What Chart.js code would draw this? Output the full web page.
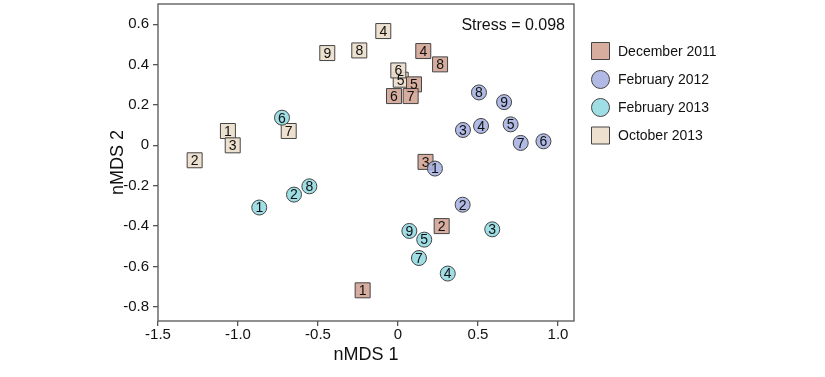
<!DOCTYPE html>
<html>
<head>
<meta charset="utf-8">
<script src="https://cdn.jsdelivr.net/npm/chart.js@4"></script>
<style>
  html, body { margin: 0; padding: 0; background: #fff; }
  #wrap { width: 825px; height: 377px; }
</style>
</head>
<body>
<div id="wrap"><canvas id="nmds-chart" width="825" height="377"></canvas></div>
<script>
const seriesNames = ['December 2011', 'February 2012', 'February 2013', 'October 2013'];

const dec2011Labels = ['1', '2', '3', '4', '5', '6', '7', '8'];
const dec2011X = [-0.221, 0.273, 0.172, 0.158, 0.100, -0.025, 0.079, 0.263];
const dec2011Y = [-0.718, -0.400, -0.082, 0.467, 0.302, 0.244, 0.244, 0.401];

const feb2012Labels = ['1', '2', '3', '4', '5', '6', '7', '8', '9'];
const feb2012X = [0.231, 0.404, 0.406, 0.519, 0.704, 0.909, 0.767, 0.506, 0.663];
const feb2012Y = [-0.115, -0.294, 0.076, 0.096, 0.104, 0.020, 0.012, 0.262, 0.214];

const feb2013Labels = ['1', '2', '3', '4', '5', '6', '7', '8', '9'];
const feb2013X = [-0.867, -0.650, 0.589, 0.311, 0.164, -0.725, 0.131, -0.554, 0.071];
const feb2013Y = [-0.308, -0.244, -0.416, -0.635, -0.467, 0.137, -0.558, -0.203, -0.424];

const oct2013Labels = ['1', '2', '3', '4', '5', '6', '7', '8', '9'];
const oct2013X = [-1.063, -1.271, -1.033, -0.092, 0.017, 0.002, -0.683, -0.242, -0.442];
const oct2013Y = [0.071, -0.074, 0.000, 0.566, 0.325, 0.371, 0.071, 0.470, 0.457];

const xTicks = [-1.5, -1.0, -0.5, 0, 0.5, 1.0];
const yTicks = [-0.8, -0.6, -0.4, -0.2, 0, 0.2, 0.4, 0.6];
const stressText = 'Stress = 0.098';

const FONT = '"Liberation Sans", Arial, sans-serif';
const frameColor = '#555';

function toPoints(xs, ys) {
  return xs.map((x, i) => ({ x: x, y: ys[i] }));
}

function fmtTick(v) {
  return v === 0 ? '0' : Number(v).toFixed(1);
}

const datasets = [
  {
    label: seriesNames[0],
    data: toPoints(dec2011X, dec2011Y),
    sampleLabels: dec2011Labels,
    pointStyle: 'rect',
    pointRadius: 10.6,
    backgroundColor: 'rgba(210, 166, 150, 0.92)',
    order: 3
  },
  {
    label: seriesNames[1],
    data: toPoints(feb2012X, feb2012Y),
    sampleLabels: feb2012Labels,
    pointStyle: 'circle',
    pointRadius: 7.5,
    backgroundColor: 'rgba(165, 177, 224, 0.88)',
    order: 2
  },
  {
    label: seriesNames[2],
    data: toPoints(feb2013X, feb2013Y),
    sampleLabels: feb2013Labels,
    pointStyle: 'circle',
    pointRadius: 7.5,
    backgroundColor: 'rgba(152, 219, 227, 0.92)',
    order: 1
  },
  {
    label: seriesNames[3],
    data: toPoints(oct2013X, oct2013Y),
    sampleLabels: oct2013Labels,
    pointStyle: 'rect',
    pointRadius: 10.6,
    backgroundColor: 'rgba(236, 221, 203, 0.92)',
    order: 4
  }
];
datasets.forEach(ds => {
  ds.borderColor = '#444';
  ds.borderWidth = 1;
  ds.pointHoverRadius = ds.pointRadius;
});

// numbers inside the markers, drawn right after each dataset so overlaps stack correctly
const pointLabels = {
  id: 'pointLabels',
  afterDatasetDraw(chart, args) {
    const ctx = chart.ctx;
    const ds = chart.data.datasets[args.index];
    ctx.save();
    ctx.font = '14px ' + FONT;
    ctx.fillStyle = '#111';
    ctx.textAlign = 'center';
    ctx.textBaseline = 'middle';
    args.meta.data.forEach((pt, i) => {
      ctx.fillText(ds.sampleLabels[i], pt.x, pt.y + 1);
    });
    ctx.restore();
  }
};

const frameAndLegend = {
  id: 'frameAndLegend',
  beforeDatasetsDraw(chart) {
    const { ctx, chartArea: a } = chart;
    ctx.save();
    ctx.strokeStyle = frameColor;
    ctx.lineWidth = 1.3;
    ctx.strokeRect(a.left, a.top, a.right - a.left, a.bottom - a.top);
    ctx.fillStyle = '#111';
    ctx.font = '16px ' + FONT;
    ctx.textAlign = 'right';
    ctx.textBaseline = 'middle';
    ctx.fillText(stressText, a.right - 9, 26);
    ctx.restore();
  },
  afterDraw(chart) {
    const ctx = chart.ctx;
    const legendOrder = [0, 1, 2, 3];
    const cx = 600.5;
    const rows = [51, 79.5, 107.5, 135.5];
    ctx.save();
    legendOrder.forEach((dsIdx, r) => {
      const ds = chart.data.datasets[dsIdx];
      const y = rows[r];
      ctx.fillStyle = ds.backgroundColor;
      ctx.strokeStyle = '#444';
      ctx.lineWidth = 1;
      ctx.beginPath();
      if (ds.pointStyle === 'circle') {
        ctx.arc(cx, y, 9, 0, Math.PI * 2);
      } else {
        ctx.rect(cx - 9, y - 8.5, 18, 17);
      }
      ctx.fill();
      ctx.stroke();
      ctx.fillStyle = '#111';
      ctx.font = '14px ' + FONT;
      ctx.textAlign = 'left';
      ctx.textBaseline = 'middle';
      ctx.fillText(ds.label, 618, y + 1);
    });
    ctx.restore();
  }
};

new Chart(document.getElementById('nmds-chart'), {
  type: 'scatter',
  data: { datasets: datasets },
  options: {
    responsive: false,
    animation: false,
    events: [],
    layout: { autoPadding: false, padding: { left: 107, right: 251, top: 4, bottom: 0 } },
    plugins: {
      legend: { display: false },
      tooltip: { enabled: false }
    },
    scales: {
      x: {
        type: 'linear',
        min: -1.5,
        max: 1.1,
        afterBuildTicks: s => { s.ticks = xTicks.map(v => ({ value: v })); },
        afterFit: s => { s.height = 56; s.paddingLeft = 0; s.paddingRight = 0; },
        border: { display: false },
        grid: { drawOnChartArea: false, drawTicks: true, tickLength: 5, color: frameColor, lineWidth: 1.3 },
        ticks: {
          padding: 0,
          color: '#111',
          font: { family: FONT, size: 15 },
          maxRotation: 0,
          callback: v => fmtTick(v)
        },
        title: {
          display: true,
          text: 'nMDS 1',
          color: '#111',
          font: { family: FONT, size: 18 },
          padding: { top: 0, bottom: 11 }
        }
      },
      y: {
        type: 'linear',
        min: -0.87,
        max: 0.7,
        afterBuildTicks: s => { s.ticks = yTicks.map(v => ({ value: v })); },
        afterFit: s => { s.width = 51; s.paddingTop = 0; s.paddingBottom = 0; },
        border: { display: false },
        grid: { drawOnChartArea: false, drawTicks: true, tickLength: 5, color: frameColor, lineWidth: 1.3 },
        ticks: {
          padding: 4,
          color: '#111',
          font: { family: FONT, size: 15 },
          callback: v => fmtTick(v)
        },
        title: {
          display: true,
          text: 'nMDS 2',
          color: '#111',
          font: { family: FONT, size: 18 },
          padding: { top: 0, bottom: 0 }
        }
      }
    }
  },
  plugins: [pointLabels, frameAndLegend]
});
</script>
</body>
</html>
